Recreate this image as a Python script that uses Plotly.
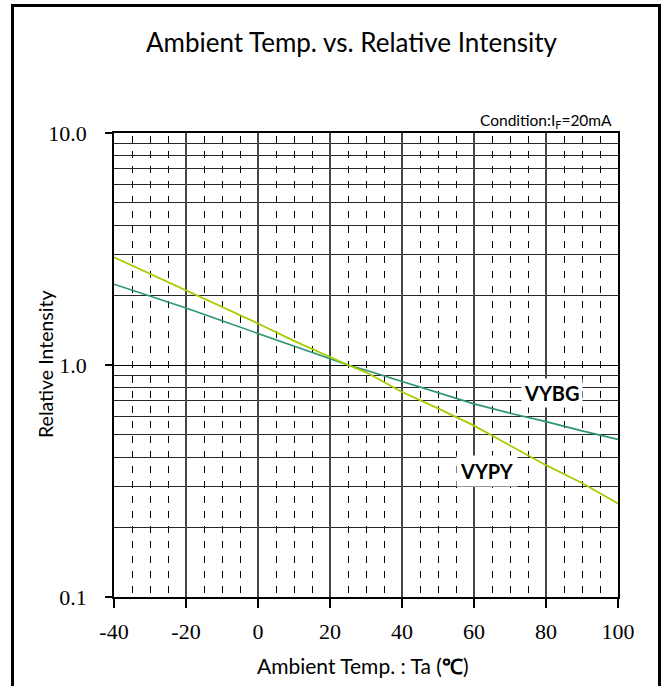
import plotly.graph_objects as go

# ---- data ----
temps = [-40, -30, -20, -10, 0, 10, 20, 25, 30, 40, 50, 60, 70, 80, 90, 100]
vybg = [2.23, 1.98, 1.76, 1.55, 1.37, 1.21, 1.07, 1.0, 0.95, 0.85, 0.76, 0.68, 0.62, 0.57, 0.52, 0.478]
vypy = [2.91, 2.47, 2.10, 1.78, 1.51, 1.27, 1.08, 1.0, 0.93, 0.765, 0.65, 0.548, 0.45, 0.37, 0.31, 0.253]

x_ticks = [-40, -20, 0, 20, 40, 60, 80, 100]
y_ticks = [0.1, 1, 10]
y_ticktext = ["0.1", "1.0", "10.0"]
y_minor = [0.2, 0.3, 0.4, 0.5, 0.6, 0.7, 0.8, 0.9, 2, 3, 4, 5, 6, 7, 8, 9]

W, H = 666, 686
L, R, T, B = 114, 48, 133, 89
pw, ph = W - L - R, H - T - B


def px2paper(px, py):
    return (px - L) / pw, (H - B - py) / ph


fig = go.Figure()
fig.add_trace(go.Scatter(x=temps, y=vybg, mode="lines", name="VYBG",
                         line=dict(color="rgb(46,150,110)", width=1.6)))
fig.add_trace(go.Scatter(x=temps, y=vypy, mode="lines", name="VYPY",
                         line=dict(color="rgb(165,205,0)", width=1.8)))

serif = dict(family="Liberation Serif", size=22, color="black")

fig.update_layout(
    width=W, height=H,
    margin=dict(l=L, r=R, t=T, b=B, pad=0),
    paper_bgcolor="white", plot_bgcolor="white",
    showlegend=False,
    xaxis=dict(
        range=[-40, 100], tickmode="array", tickvals=x_ticks,
        ticktext=[str(v) for v in x_ticks],
        ticks="outside", ticklen=9, tickcolor="black", tickwidth=1.5,
        ticklabelstandoff=5,
        tickfont=serif,
        showline=True, mirror=True, linecolor="black", linewidth=1.8,
        showgrid=True, gridcolor="rgb(70,70,70)", gridwidth=1.5,
        zeroline=False,
        minor=dict(tickmode="array", tickvals=[v for v in range(-40, 101, 5) if v % 20 != 0],
                   showgrid=True, gridcolor="black", gridwidth=1,
                   griddash="0px,3px,7px,5px", ticks=""),
    ),
    yaxis=dict(
        type="log", range=[-1, 1], tickmode="array", tickvals=y_ticks,
        ticktext=y_ticktext,
        ticks="outside", ticklen=7, tickcolor="black", tickwidth=1.5,
        ticklabelstandoff=14,
        tickfont=serif,
        showline=True, mirror=True, linecolor="black", linewidth=1.8,
        showgrid=True, gridcolor="black", gridwidth=1.2,
        zeroline=False,
        minor=dict(tickmode="array", tickvals=y_minor,
                   showgrid=True, gridcolor="rgb(40,40,40)", gridwidth=1.1, ticks=""),
    ),
)

# title
tx, ty = px2paper(351, 42)
fig.add_annotation(text="Ambient Temp. vs. Relative Intensity",
                   xref="paper", yref="paper", x=tx, y=ty,
                   xanchor="center", yanchor="middle", showarrow=False,
                   font=dict(family="Lato", size=26, color="black"))
# condition
cx, cy = px2paper(614, 121)
fig.add_annotation(text="Condition:I<sub>F</sub>=20mA",
                   xref="paper", yref="paper", x=cx, y=cy,
                   xanchor="right", yanchor="middle", showarrow=False,
                   font=dict(family="Lato", size=15.5, color="black"))
# x axis title
ax, ay = px2paper(363, 665)
fig.add_annotation(text="Ambient Temp. : Ta (<b>℃</b>)",
                   xref="paper", yref="paper", x=ax, y=ay,
                   xanchor="center", yanchor="middle", showarrow=False,
                   font=dict(family="Lato", size=21, color="black"))
# y axis title
bx, by = px2paper(45, 365)
fig.add_annotation(text="Relative Intensity", textangle=-90,
                   xref="paper", yref="paper", x=bx, y=by,
                   xanchor="center", yanchor="middle", showarrow=False,
                   font=dict(family="Lato", size=19.5, color="black"))
# series labels
fig.add_annotation(text="<b>VYBG</b>", x=81.7, y=-0.1207, xref="x", yref="y",
                   showarrow=False, bgcolor="white", borderpad=2,
                   font=dict(family="Lato", size=20, color="black"))
fig.add_annotation(text="<b>VYPY</b>", x=63.6, y=-0.457, xref="x", yref="y",
                   showarrow=False, bgcolor="white", borderpad=3,
                   font=dict(family="Lato", size=20, color="black"))

# outer frame (top, left, right; bottom runs off the image)
x0, y0 = px2paper(12.5, 5.5)
x1, y1 = px2paper(659.5, 700)
fig.add_shape(type="path", xref="paper", yref="paper",
              path=f"M {x0},{y1} L {x0},{y0} L {x1},{y0} L {x1},{y1}",
              line=dict(color="black", width=3))

fig.write_html("out.html", config={"displayModeBar": False})
